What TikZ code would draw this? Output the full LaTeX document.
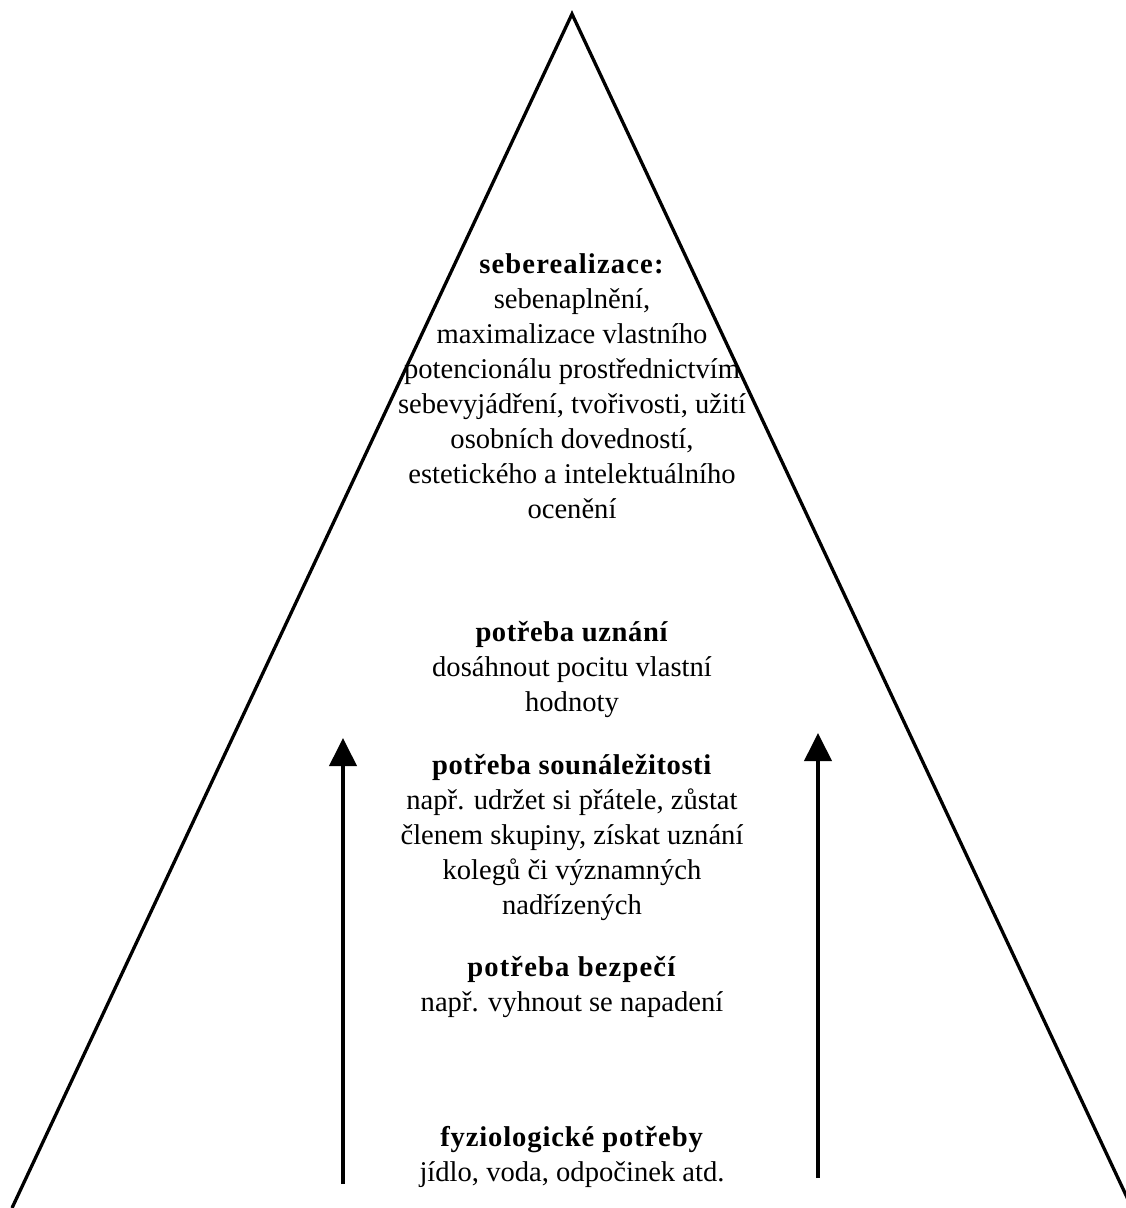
\documentclass[tikz,border=0pt]{standalone}
\usepackage{fontspec}
\setmainfont{Liberation Serif}
\usetikzlibrary{arrows.meta}
\tikzset{
  side/.style={line width=3.3pt, line cap=butt},
  uparrow/.style={line width=4pt, -{Triangle[width=27pt,length=28pt]}},
  level/.style={align=center, inner sep=0pt, anchor=north, font=\fontsize{28.6}{35}\selectfont},
}
\newcommand{\hd}[2]{\textbf{\addfontfeature{LetterSpace=#1}#2}}
\begin{document}
\begin{tikzpicture}[x=1pt,y=-1pt]
\useasboundingbox (0,0) rectangle (1126,1208);
\begin{scope}
\clip (0,0) rectangle (1126,1208);
\coordinate (apex) at (572,14);
\coordinate (bl) at (12,1208);
\coordinate (br) at (1132,1208);
\draw[side, line join=miter] (bl) -- (apex) -- (br);
\end{scope}
\coordinate (la0) at (343,1184);
\coordinate (la1) at (343,738);
\coordinate (ra0) at (818,1178);
\coordinate (ra1) at (818,733);
\draw[uparrow] (la0) -- (la1);
\draw[uparrow] (ra0) -- (ra1);
\node[level] (l5) at (572,253) {\hd{4}{seberealizace:}\\sebenaplnění,\\maximalizace vlastního\\potencionálu prostřednictvím\\sebevyjádření, tvořivosti, užití\\osobních dovedností,\\estetického a intelektuálního\\ocenění};
\node[level] (l4) at (572,621) {\hd{2}{potřeba uznání}\\dosáhnout pocitu vlastní\\hodnoty};
\node[level] (l3) at (572,754) {\hd{2}{potřeba sounáležitosti}\\např. udržet si přátele, zůstat\\členem skupiny, získat uznání\\kolegů či významných\\nadřízených};
\node[level] (l2) at (572,956) {\hd{4}{potřeba bezpečí}\\např. vyhnout se napadení};
\node[level] (l1) at (572,1126) {\hd{3}{fyziologické potřeby}\\jídlo, voda, odpočinek atd.};
\end{tikzpicture}
\end{document}
